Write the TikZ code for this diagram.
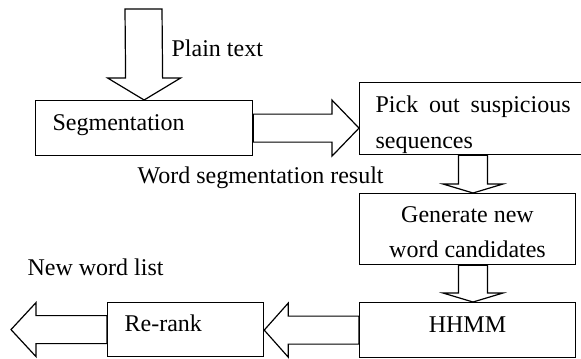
\documentclass[tikz,border=0pt]{standalone}
\usepackage{fontspec}
\setmainfont{Liberation Serif}
\usetikzlibrary{calc}

% Hollow block arrow along y: from base point #1 to tip #2,
% half shaft width #3, half head width #4, head base offset #5 (signed)
\newcommand\blockv[5]{%
  \draw[fat] ($(#1)+(-#3,0)$) -- ($(#2)+(-#3,#5)$) -- ($(#2)+(-#4,#5)$) -- (#2)
    -- ($(#2)+(#4,#5)$) -- ($(#2)+(#3,#5)$) -- ($(#1)+(#3,0)$) -- cycle;}
% Hollow block arrow along x, same arguments
\newcommand\blockh[5]{%
  \draw[fat] ($(#1)+(0,-#3)$) -- ($(#2)+(#5,-#3)$) -- ($(#2)+(#5,-#4)$) -- (#2)
    -- ($(#2)+(#5,#4)$) -- ($(#2)+(#5,#3)$) -- ($(#1)+(0,#3)$) -- cycle;}

\begin{document}
\begin{tikzpicture}[x=0.5pt,y=-0.5pt,line width=0.6pt,
  box/.style={draw,inner sep=0pt,anchor=north west},
  lbl/.style={inner sep=0pt,anchor=base west,font=\fontsize{12}{14}\selectfont},
  clbl/.style={lbl,anchor=base},
  fat/.style={draw,line join=miter}]
\useasboundingbox (0,0) rectangle (581,358);
\clip (0,0) rectangle (581,358);

% process boxes
\node[box,minimum width=108.5pt,minimum height=27.5pt] (seg)    at (35,100)  {};
\node[box,minimum width=115.5pt,minimum height=36pt]   (pick)   at (359,82)  {};
\node[box,minimum width=108pt,minimum height=35.5pt]   (gen)    at (359,193) {};
\node[box,minimum width=108pt,minimum height=27.5pt]   (hhmm)   at (359,302) {};
\node[box,minimum width=78pt,minimum height=27pt]      (rerank) at (107,302) {};

% box texts
\node[lbl] (tseg) at (52,130) {Segmentation};
\node[lbl] (tpick1) at (375,112) {\makebox[97.5pt][s]{Pick out suspicious}};
\node[lbl] (tpick2) at (375,148) {sequences};
\node[clbl] (tgen1) at (467.5,222) {Generate new};
\node[clbl] (tgen2) at (467.5,257) {word candidates};
\node[clbl] (thhmm) at (467.5,332) {HHMM};
\node[lbl] (trr) at (124,331) {Re-rank};

% free labels
\node[lbl] (lplain) at (171,56) {Plain text};
\node[lbl] (lwsr) at (137,183) {Word segmentation result};
\node[lbl] (lnwl) at (27,275) {New word list};

% connector end points
\coordinate (src) at (143.5,9);
\coordinate (t1) at (pick.west |- seg.east);
\coordinate (c2) at ($(gen.north west)+(114,0)$);
\coordinate (a2) at (c2 |- pick.south);
\coordinate (a3) at ($(gen.south west)+(114,0)$);
\coordinate (c3) at ($(hhmm.north west)+(114,0)$);
\coordinate (t4) at (rerank.east |- hhmm.west);
\coordinate (out) at ($(rerank.west)+(-96,0)$);

% block arrows
\blockv{src}{seg.north}{18.5}{36.5}{-22}
\blockh{seg.east}{t1}{14}{28}{-27}
\blockv{a2}{c2}{14.5}{30}{-9}
\blockv{a3}{c3}{14.5}{30}{-9}
\blockh{hhmm.west}{t4}{14}{27}{24}
\blockh{rerank.west}{out}{14}{27}{25}
\end{tikzpicture}
\end{document}
